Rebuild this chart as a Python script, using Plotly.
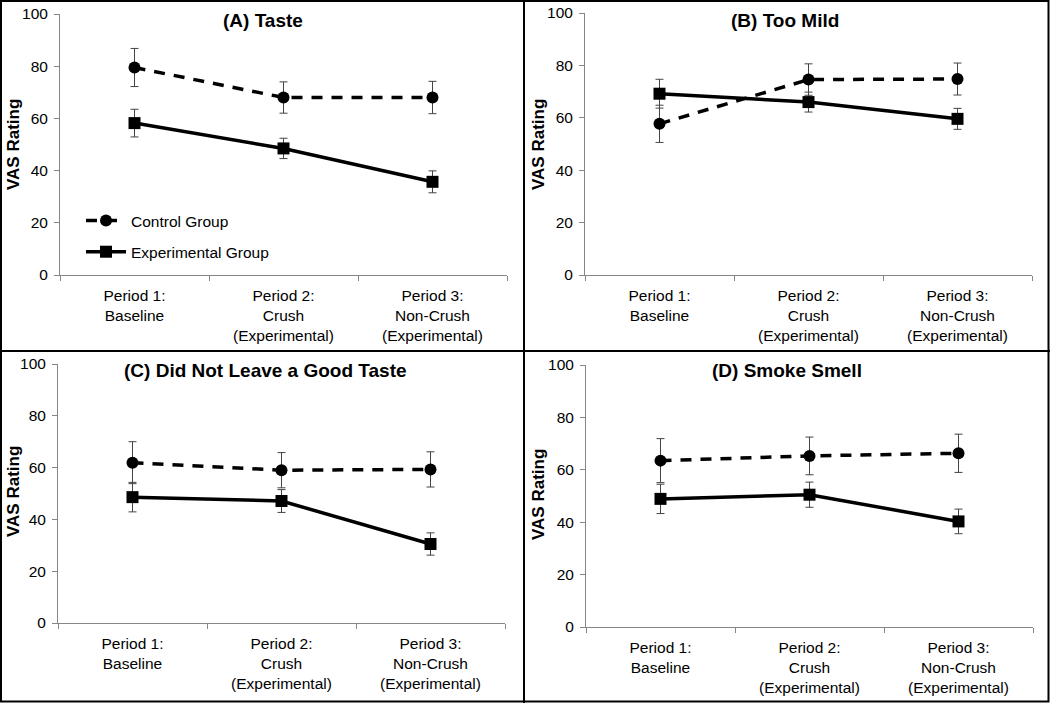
import plotly.graph_objects as go

W, H = 1050, 703

periods = ["Period 1:<br>Baseline",
           "Period 2:<br>Crush<br>(Experimental)",
           "Period 3:<br>Non-Crush<br>(Experimental)"]

panel_titles = ["(A) Taste", "(B) Too Mild", "(C) Did Not Leave a Good Taste", "(D) Smoke Smell"]

control_taste = [79.5, 68.0, 68.0]
control_taste_err = [7.3, 6.0, 6.2]
exp_taste = [58.2, 48.5, 35.7]
exp_taste_err = [5.3, 3.9, 4.2]

control_mild = [57.7, 74.6, 74.8]
control_mild_err = [7.1, 6.0, 6.1]
exp_mild = [69.2, 66.0, 59.6]
exp_mild_err = [5.5, 3.8, 4.0]

control_good = [61.9, 59.0, 59.3]
control_good_err = [8.1, 6.8, 6.8]
exp_good = [48.6, 47.1, 30.5]
exp_good_err = [5.7, 4.4, 4.3]

control_smoke = [63.5, 65.3, 66.3]
control_smoke_err = [8.4, 7.2, 7.3]
exp_smoke = [48.9, 50.5, 40.3]
exp_smoke_err = [5.6, 4.8, 4.7]

series_names = ["Control Group", "Experimental Group"]

panels = [
    (control_taste, control_taste_err, exp_taste, exp_taste_err),
    (control_mild, control_mild_err, exp_mild, exp_mild_err),
    (control_good, control_good_err, exp_good, exp_good_err),
    (control_smoke, control_smoke_err, exp_smoke, exp_smoke_err),
]

# plot-area domains in pixels: (left, right, top, bottom)
px_domains = [
    (60, 507, 14, 275),
    (585, 1032, 13, 275),
    (58, 505, 364, 623),
    (586, 1033, 365, 627),
]

FONT = "Liberation Sans, Arial, sans-serif"
AXIS_COLOR = "#868686"
ERR_COLOR = "#444444"
TXT = 15.5

fig = go.Figure()

for i, (c, ce, e, ee) in enumerate(panels):
    n = "" if i == 0 else str(i + 1)
    xa, ya = "x" + n, "y" + n
    fig.add_trace(go.Scatter(
        x=periods, y=c, xaxis=xa, yaxis=ya, name=series_names[0],
        mode="lines+markers", legendgroup="ctrl", showlegend=(i == 0),
        line=dict(color="black", width=3.5, dash="11px,9px"),
        marker=dict(symbol="circle", size=12, color="black"),
        error_y=dict(type="data", array=ce, visible=True, color=ERR_COLOR,
                     thickness=1, width=4),
    ))
    fig.add_trace(go.Scatter(
        x=periods, y=e, xaxis=xa, yaxis=ya, name=series_names[1],
        mode="lines+markers", legendgroup="exp", showlegend=(i == 0),
        line=dict(color="black", width=3.5),
        marker=dict(symbol="square", size=12, color="black"),
        error_y=dict(type="data", array=ee, visible=True, color=ERR_COLOR,
                     thickness=1, width=4),
    ))

layout = dict(
    width=W, height=H, autosize=False,
    margin=dict(l=0, r=0, t=0, b=0, pad=0, autoexpand=False),
    paper_bgcolor="white", plot_bgcolor="white",
    font=dict(family=FONT, size=TXT, color="black"),
    showlegend=True,
    legend=dict(x=81 / W, y=1 - 204 / H, xanchor="left", yanchor="top",
                bgcolor="rgba(0,0,0,0)", font=dict(size=TXT),
                tracegroupgap=8, itemwidth=40),
)

annotations = []
for i, (l, r, t, b) in enumerate(px_domains):
    n = "" if i == 0 else str(i + 1)
    layout["xaxis" + n] = dict(
        domain=[l / W, r / W], anchor="y" + n, type="category",
        range=[-0.5, 2.5], showline=True, linecolor=AXIS_COLOR, linewidth=1,
        ticks="outside", tickson="boundaries", ticklen=5, tickcolor=AXIS_COLOR,
        showgrid=False, zeroline=False, tickfont=dict(size=TXT),
        ticklabelstandoff=6, fixedrange=True, automargin=False,
    )
    layout["yaxis" + n] = dict(
        domain=[1 - b / H, 1 - t / H], anchor="x" + n,
        range=[0, 100], dtick=20, showline=True, linecolor=AXIS_COLOR,
        linewidth=1, ticks="outside", ticklen=5, tickcolor=AXIS_COLOR,
        showgrid=False, zeroline=False, tickfont=dict(size=TXT),
        ticklabelstandoff=3, fixedrange=True, automargin=False,
    )

title_pos = [(263, 21), (785, 20), (265, 370), (787, 370)]
for (tx, ty), title in zip(title_pos, panel_titles):
    annotations.append(dict(text="<b>%s</b>" % title, x=tx / W, y=1 - ty / H,
                            xref="paper", yref="paper", showarrow=False,
                            xanchor="center", yanchor="middle",
                            font=dict(size=19, family=FONT)))

ytitle_pos = [(13, 145), (538, 145), (13, 492), (538, 495)]
for (tx, ty) in ytitle_pos:
    annotations.append(dict(text="<b>VAS Rating</b>", x=tx / W, y=1 - ty / H,
                            xref="paper", yref="paper", showarrow=False,
                            textangle=-90, xanchor="center", yanchor="middle",
                            font=dict(size=17, family=FONT)))
layout["annotations"] = annotations

shapes = [
    dict(type="rect", xref="paper", yref="paper", x0=1 / W, x1=1 - 1.5 / W,
         y0=1.5 / H, y1=1 - 1 / H, line=dict(color="black", width=2)),
    dict(type="line", xref="paper", yref="paper", x0=524 / W, x1=524 / W,
         y0=0, y1=1, line=dict(color="black", width=2)),
    dict(type="line", xref="paper", yref="paper", x0=0, x1=1,
         y0=1 - 351 / H, y1=1 - 351 / H, line=dict(color="black", width=2)),
]
layout["shapes"] = shapes

fig.update_layout(**layout)
fig.write_html(
    "out.html",
    config={"displayModeBar": False},
    post_script="document.body.style.margin='0px';"
                "document.body.style.overflow='hidden';",
)
